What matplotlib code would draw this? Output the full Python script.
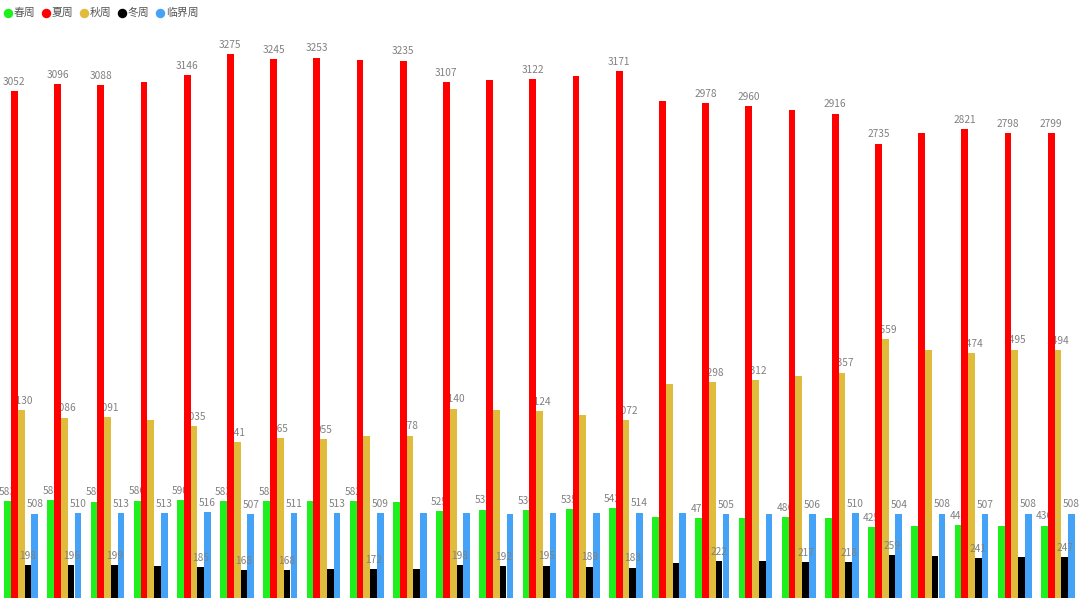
import numpy as np
import matplotlib
matplotlib.use("Agg")
import matplotlib.pyplot as plt

plt.rcParams['font.family'] = ['Noto Sans CJK SC', 'DejaVu Sans']

# series values (25 weeks)
spring = [583, 588, 580, 586, 590, 583, 585, 584, 582, 580, 525, 532, 530, 535, 542,
          490, 479, 482, 486, 482, 425, 433, 441, 435, 436]
summer = [3052, 3096, 3088, 3108, 3146, 3275, 3245, 3253, 3238, 3235, 3107, 3117, 3122, 3142, 3171,
          2992, 2978, 2960, 2940, 2916, 2735, 2799, 2821, 2798, 2799]
autumn = [1130, 1086, 1091, 1073, 1035, 941, 965, 955, 975, 978, 1140, 1134, 1124, 1103, 1072,
          1288, 1298, 1312, 1336, 1357, 1559, 1495, 1474, 1495, 1494]
winter = [198, 196, 199, 191, 185, 168, 168, 173, 172, 173, 198, 192, 195, 189, 183,
          213, 222, 223, 217, 218, 259, 251, 241, 247, 247]
critical = [508, 510, 513, 513, 516, 507, 511, 513, 509, 510, 510, 507, 509, 509, 514,
            510, 505, 508, 506, 510, 504, 508, 507, 508, 508]

names = ['春周', '夏周', '秋周', '冬周', '临界周']
colors = ['#1ef01e', '#ff0000', '#e0bb3c', '#000000', '#45a3f7']
data = [spring, summer, autumn, winter, critical]

# labels dropped by the original chart's overlap hiding (0-based group index)
hidden = [
    [7, 9, 15, 17, 19, 21, 23],
    [3, 8, 11, 13, 15, 18, 21],
    [3, 8, 11, 13, 15, 18, 21],
    [3, 7, 9, 15, 17, 21, 23],
    [9, 10, 11, 12, 13, 15, 17],
]
# red series sits on top of the other bars and their labels
bar_z = [2, 4, 2, 2, 2]
label_z = [3, 5, 3, 3, 3]

fig = plt.figure(figsize=(10.8, 6.03), dpi=100)
ax = fig.add_axes([0, 0.0083, 1, 0.9642])

x = np.arange(len(spring))
w = 0.155
step = 0.157
for i, (vals, c) in enumerate(zip(data, colors)):
    pos = x + (i - 2) * step - 0.01
    ax.bar(pos, vals, width=w, color=c, zorder=bar_z[i])
    for j, v in enumerate(vals):
        if j in hidden[i]:
            continue
        ax.annotate(str(v), (pos[j], v), xytext=(0, 3), textcoords='offset points',
                    ha='center', va='bottom', fontsize=7.3, color='#808080',
                    zorder=label_z[i])

ax.set_xlim(-0.5, len(spring) - 0.5)
ax.set_ylim(0, 3500)
ax.axis('off')

# legend: dots + names in one row at top left
leg_x = [8, 46, 84, 122, 160]
for lx, name, c in zip(leg_x, names, colors):
    fig.add_artist(plt.Line2D([lx / 1080], [1 - 13 / 603], marker='o', markersize=5.8,
                              markerfacecolor=c, markeredgecolor=c, linestyle='none',
                              transform=fig.transFigure))
    fig.text((lx + 6) / 1080, 1 - 13 / 603, name, fontsize=7.8, color='#555555',
             ha='left', va='center')

fig.savefig('out.png', dpi=100)
